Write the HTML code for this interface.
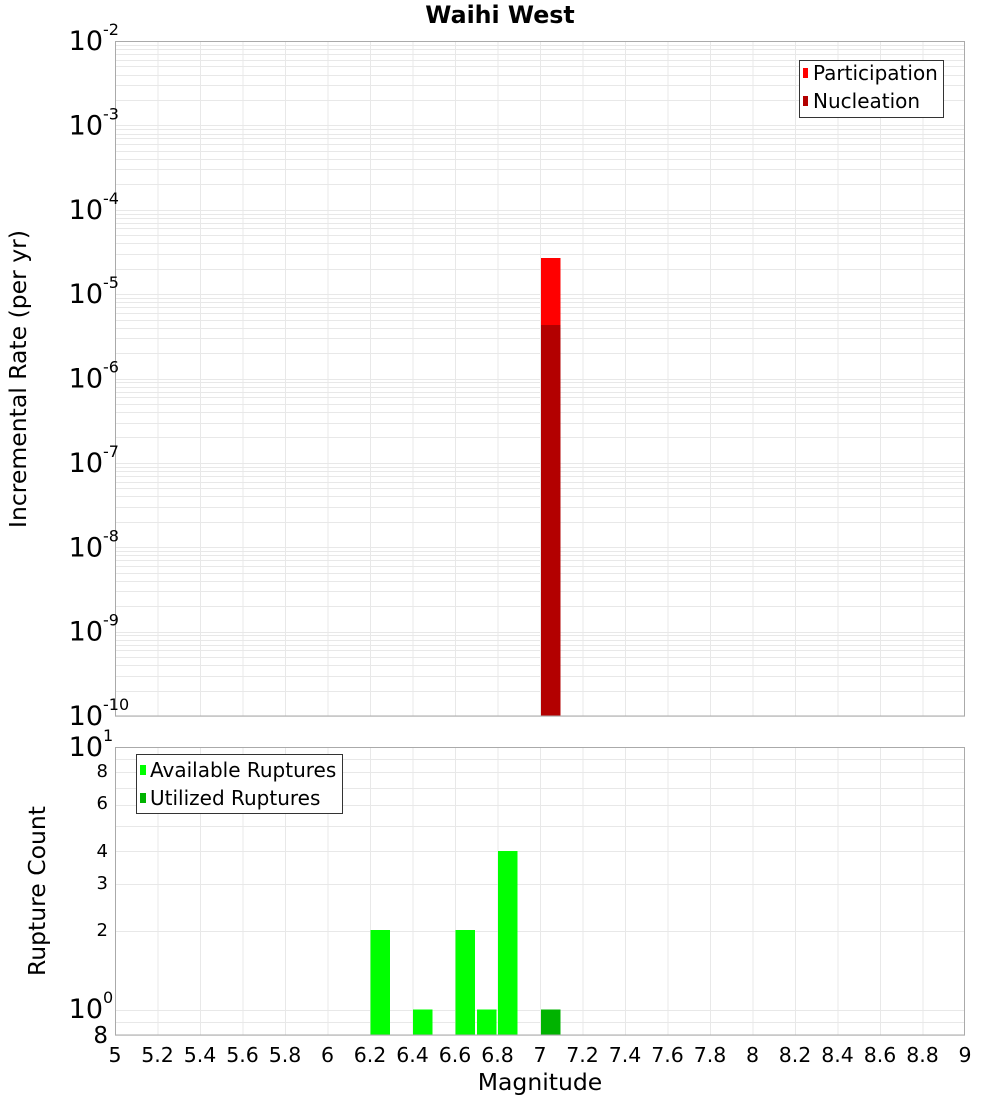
<!DOCTYPE html>
<html><head><meta charset="utf-8"><style>body{margin:0;background:#fff}svg{display:block;font-family:"DejaVu Sans","Liberation Sans",sans-serif}</style></head>
<body>
<svg id="s" width="1000" height="1100" xmlns="http://www.w3.org/2000/svg">
<rect width="1000" height="1100" fill="#fff"/>
<g id="grid"></g>
<rect x="541" y="258" width="19.5" height="458" fill="#ff0000"/>
<rect x="541" y="325" width="19.5" height="391" fill="#b30000"/>
<rect x="370.5" y="930" width="19.5" height="105" fill="#00ff00"/>
<rect x="413" y="1009.5" width="19.5" height="25.5" fill="#00ff00"/>
<rect x="455.5" y="930" width="19.5" height="105" fill="#00ff00"/>
<rect x="477" y="1009.5" width="19.5" height="25.5" fill="#00ff00"/>
<rect x="498" y="851" width="19.5" height="184" fill="#00ff00"/>
<rect x="541" y="1009.5" width="19.5" height="25.5" fill="#00b300"/>
<rect x="115.5" y="41.5" width="849" height="674.5" fill="none" stroke="#aaa"/>
<rect x="115.5" y="747.5" width="849" height="287.5" fill="none" stroke="#aaa"/>
<text x="500" y="23" text-anchor="middle" font-weight="bold" font-size="23.7">Waihi West</text>
<rect x="799.5" y="60.5" width="144" height="57" fill="#fff" stroke="#333"/>
<rect x="803" y="68" width="5" height="10" fill="#ff0000"/>
<text x="813" y="80" font-size="20">Participation</text>
<rect x="803" y="96" width="5" height="10" fill="#b30000"/>
<text x="813" y="108" font-size="20">Nucleation</text>
<rect x="136.5" y="754.5" width="206" height="59" fill="#fff" stroke="#333"/>
<rect x="140" y="765" width="6" height="10" fill="#00ff00"/>
<text x="150" y="777" font-size="20">Available Ruptures</text>
<rect x="140" y="793" width="6" height="10" fill="#00b300"/>
<text x="150" y="805" font-size="20">Utilized Ruptures</text>
<g id="labels"></g>
<text x="540" y="1090" text-anchor="middle" font-size="23.5">Magnitude</text>
<text transform="translate(26,379) rotate(-90)" text-anchor="middle" font-size="23.5">Incremental Rate (per yr)</text>
<text transform="translate(45,891) rotate(-90)" text-anchor="middle" font-size="23.5">Rupture Count</text>
</svg>
<script>
var ns="http://www.w3.org/2000/svg",g=document.getElementById('grid'),L=document.getElementById('labels');
function ln(x1,y1,x2,y2){var l=document.createElementNS(ns,'line');l.setAttribute('x1',x1);l.setAttribute('y1',y1);l.setAttribute('x2',x2);l.setAttribute('y2',y2);l.setAttribute('stroke','#e8e8e8');l.setAttribute('stroke-width','1');g.appendChild(l);}
function tx(x,y,s,size,anchor){var t=document.createElementNS(ns,'text');t.setAttribute('x',x);t.setAttribute('y',y);t.setAttribute('font-size',size);t.setAttribute('text-anchor',anchor||'start');t.textContent=s;L.appendChild(t);return t;}
function sup(x,y,exp){tx(x,y,'10',27,'end');tx(x,y-15,exp,16,'start');}
for(var i=1;i<20;i++){var x=115+i*42.5+0.5;ln(x,41,x,716);ln(x,747,x,1035);}
var pd=84.375;
for(var d=0;d<8;d++){for(var k=1;k<10;k++){var y=716-(d+Math.log10(k))*pd;ln(115,Math.round(y)+0.5,965,Math.round(y)+0.5);}}
var bpd=262.6;
[0.8,0.9,1,2,3,4,5,6,7,8,9,10].forEach(function(v){var y=1035-(Math.log10(v)+0.0969)*bpd;ln(115,Math.round(y)+0.5,965,Math.round(y)+0.5);});
for(var d=0;d<=8;d++){var y=716-d*pd;sup(103,y+9,''+(-10+d));}
tx(108,1043,'8',23,'end');tx(108,936,'2',18,'end');tx(108,889,'3',18,'end');tx(108,857,'4',18,'end');tx(108,809,'6',18,'end');tx(108,777,'8',18,'end');
sup(103,1018,'0');sup(103,756,'1');
for(var i=0;i<=20;i++){var v=(5+i*0.2);var s=(Math.round(v*10)/10).toString();tx(115+i*42.5,1062,s,20.5,'middle');}
</script>
</body></html>
